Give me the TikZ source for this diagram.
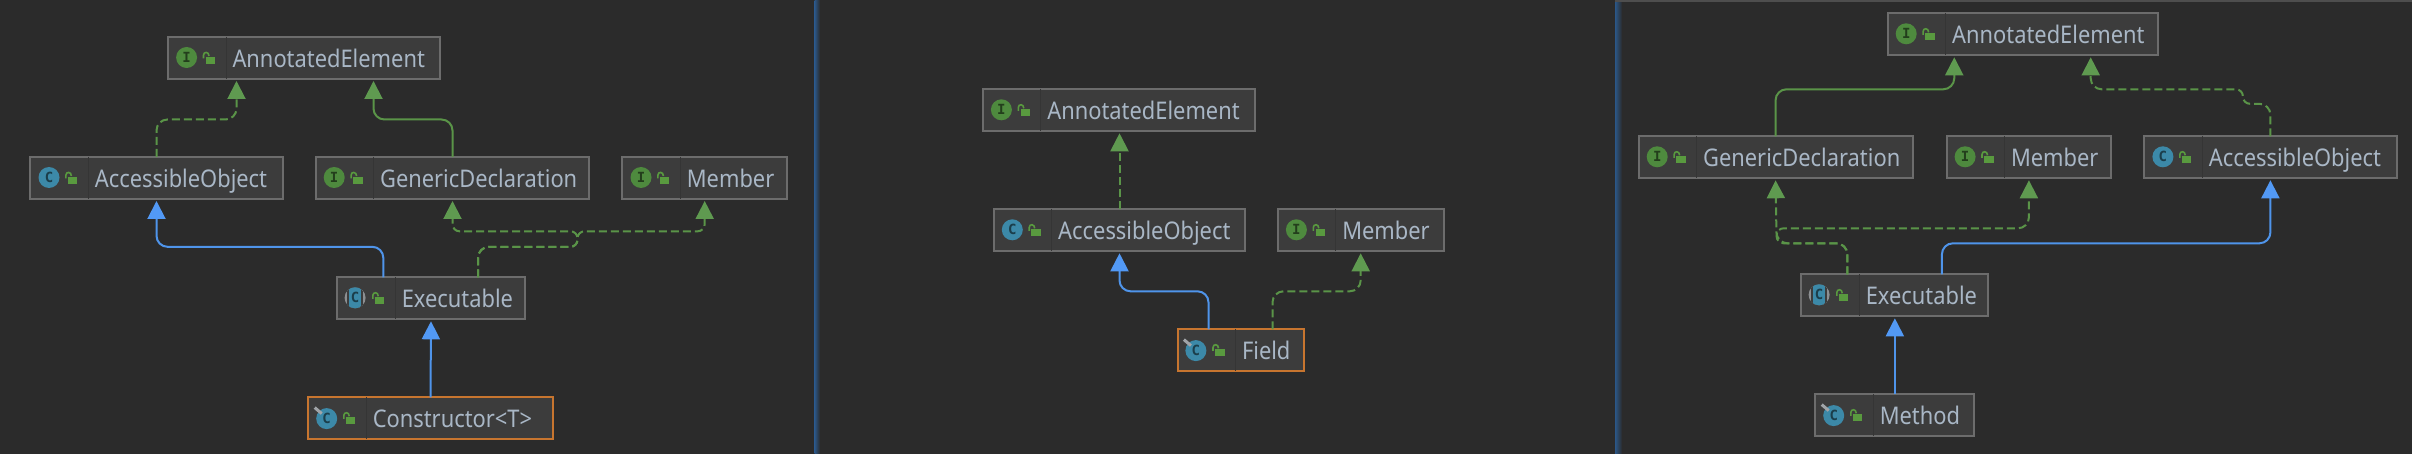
\documentclass[tikz,border=0pt]{standalone}
\usepackage{fontspec}
\setmainfont[FakeStretch=0.9]{Noto Sans}
\newfontfamily\iconfont{DejaVu Sans Mono}
\usetikzlibrary{arrows.meta,calc}
\definecolor{bgc}{HTML}{2B2B2B}
\definecolor{boxc}{HTML}{3C3C3C}
\definecolor{sepc}{HTML}{353535}
\definecolor{edgec}{HTML}{6C6C6C}
\definecolor{selc}{HTML}{C7752F}
\definecolor{txtc}{HTML}{A9B7C6}
\definecolor{greenl}{HTML}{5A9448}
\definecolor{greenh}{HTML}{5F9A50}
\definecolor{bluel}{HTML}{4F94EA}
\definecolor{blueh}{HTML}{5299F5}
\definecolor{igreen}{HTML}{4E8A3E}
\definecolor{iteal}{HTML}{3C89A8}
\definecolor{lockc}{HTML}{599A3F}
\definecolor{pinc}{HTML}{A0A4A8}
\definecolor{divc}{HTML}{2B5788}
\definecolor{topc}{HTML}{4E4E4E}
\tikzset{
  umlbox/.style={draw=edgec,fill=boxc,line width=2pt,rectangle,inner sep=0pt,outer sep=0pt},
  selbox/.style={umlbox,draw=selc},
  lab/.style={text=txtc,inner sep=0pt,outer sep=0pt,anchor=base west,font=\fontsize{24.3}{28}\selectfont},
  ilet/.style={inner sep=0pt,outer sep=0pt,font=\iconfont\bfseries\fontsize{14}{14}\selectfont},
  ghead/.style={-{Triangle[length=18pt,width=18pt,fill=greenh,color=greenh]}},
  bhead/.style={-{Triangle[length=18pt,width=18pt,fill=blueh,color=blueh]}},
  real/.style={ghead,color=greenl,line width=2pt},
  dep/.style={ghead,color=greenl,line width=2pt,dash pattern=on 8pt off 4pt},
  ext/.style={bhead,color=bluel,line width=2pt},
}
\newcommand{\lockat}[1]{%
  \fill[lockc] ($(#1.west)+(37.7,-1.3)$) rectangle ($(#1.west)+(47,6)$);
  \draw[lockc,line width=1.6pt] ($(#1.west)+(35.5,0.5)$) -- ($(#1.west)+(35.5,-2.8)$) .. controls ($(#1.west)+(35.5,-6.6)$) and ($(#1.west)+(41,-6.6)$) .. ($(#1.west)+(41,-2)$);
}
\newcommand{\iconI}[1]{%
  \node[circle,fill=igreen,minimum size=21pt,inner sep=0pt] (#1-c) at ([xshift=18.6pt,yshift=.5pt]#1.west) {};
  \node[ilet,text=black!55!igreen] at (#1-c) {I};
}
\newcommand{\iconC}[1]{%
  \node[circle,fill=iteal,minimum size=21pt,inner sep=0pt] (#1-c) at ([xshift=18.6pt,yshift=.5pt]#1.west) {};
  \node[ilet,text=black!55!iteal] at (#1-c) {C};
}
\newcommand{\iconA}[1]{%
  \coordinate (#1-c) at ([xshift=17.8pt,yshift=.5pt]#1.west);
  \begin{scope}
    \clip (#1-c) circle[radius=10.5pt];
    \fill[pinc!80!boxc] ($(#1-c)+(-11,-11)$) rectangle ($(#1-c)+(11,11)$);
    \fill[boxc] ($(#1-c)+(-8,-11)$) rectangle ($(#1-c)+(8,11)$);
    \fill[iteal] ($(#1-c)+(-6.2,-11)$) rectangle ($(#1-c)+(6.2,11)$);
  \end{scope}
  \node[ilet,text=black!55!iteal] at (#1-c) {C};
}
\newcommand{\iconF}[1]{%
  \node[circle,fill=iteal,minimum size=21pt,inner sep=0pt] (#1-c) at ([xshift=18.4pt,yshift=-.3pt]#1.west) {};
  \node[ilet,text=black!55!iteal] at (#1-c) {C};
  \draw[pinc,line width=3pt] ($(#1-c)+(-12,-11)$) -- ($(#1-c)+(-5,-5)$);
}
\newcommand{\umlnode}[8]{%
  \pgfmathsetmacro{\bw}{#4-#2-2}\pgfmathsetmacro{\bh}{#5-#3-2}%
  \pgfmathsetmacro{\cx}{(#2+#4)/2}\pgfmathsetmacro{\cy}{(#3+#5)/2}%
  \node[#6,minimum width=\bw pt,minimum height=\bh pt] (#1) at (\cx,\cy) {};
  \draw[sepc,line width=1pt] ([xshift=58pt]#1.north west) -- ([xshift=58pt]#1.south west);
  #7{#1}
  \lockat{#1}
  \node[lab] (#1-t) at ([xshift=64.5pt,yshift=-9.5pt]#1.west) {#8};
}
\begin{document}
\begin{tikzpicture}[x=1pt,y=-1pt]
\useasboundingbox (0,0) rectangle (2412,454);
\fill[bgc] (0,0) rectangle (2412,454);
% panel dividers
\fill[left color=divc,right color=bgc] (814.5,0) rectangle (820,454);
\fill[left color=divc,right color=bgc] (1615,0) rectangle (1622,454);
\fill[topc] (1615,0) rectangle (2412,2);
% panel 1
\umlnode{ae1}{167}{36}{440.6}{80}{umlbox}{\iconI}{AnnotatedElement}
\umlnode{ao1}{29.4}{156}{283.6}{200}{umlbox}{\iconC}{AccessibleObject}
\umlnode{gd1}{314.6}{156}{590.4}{200}{umlbox}{\iconI}{GenericDeclaration}
\umlnode{me1}{621.4}{156}{788}{200}{umlbox}{\iconI}{Member}
\umlnode{ex1}{336.3}{276.3}{525.7}{320.3}{umlbox}{\iconA}{Executable}
\umlnode{co1}{307.3}{396.3}{553.7}{440.3}{selbox}{\iconF}{Constructor<T>}
\draw[dep,rounded corners=11pt] (ao1.north) -- ++(0,-37.5) -| ([xshift=68.5pt,yshift=-2pt]ae1.south west);
\draw[real,rounded corners=11pt] (gd1.north) -- ++(0,-37.5) -| ([xshift=205.5pt,yshift=-2pt]ae1.south west);
\draw[ext,rounded corners=11pt] ([xshift=46pt]ex1.north west) -- ++(0,-30.5) -| ([yshift=-2pt]ao1.south);
\draw[ext] (co1.north) -- ([yshift=-2pt]ex1.south);
\draw[dep,rounded corners=11pt] ([xshift=140.7pt]ex1.north west) -- ++(0,-30.5) [rounded corners=7pt] -- ++(99.5,0) -- ++(0,-15.5) -| ([yshift=-2pt]gd1.south);
\draw[dep,rounded corners=11pt] ([xshift=140.7pt]ex1.north west) -- ++(0,-30.5) [rounded corners=7pt] -- ++(99.5,0) -- ++(0,-15.5) -| ([yshift=-2pt]me1.south);
% panel 2
\umlnode{ae2}{981.8}{88.3}{1255.6}{132.3}{umlbox}{\iconI}{AnnotatedElement}
\umlnode{ao2}{992.7}{208.3}{1246.3}{252.3}{umlbox}{\iconC}{AccessibleObject}
\umlnode{me2}{1276.8}{208.3}{1444.6}{252.3}{umlbox}{\iconI}{Member}
\umlnode{fi2}{1176.5}{328.3}{1304.6}{372.3}{selbox}{\iconF}{Field}
\draw[dep] (ao2.north) -- ([yshift=-2pt]ao2.north |- ae2.south);
\draw[ext,rounded corners=11pt] ([xshift=31pt]fi2.north west) -- ++(0,-38) -| ([yshift=-2pt]ao2.south);
\draw[dep,rounded corners=11pt] ([xshift=95pt]fi2.north west) -- ++(0,-38) -| ([yshift=-2pt]me2.south);
% panel 3
\umlnode{ae3}{1886.6}{12.3}{2159.3}{56.3}{umlbox}{\iconI}{AnnotatedElement}
\umlnode{gd3}{1637.6}{135.3}{1913.5}{179.3}{umlbox}{\iconI}{GenericDeclaration}
\umlnode{me3}{1945.5}{135.3}{2112.3}{179.3}{umlbox}{\iconI}{Member}
\umlnode{ao3}{2143.3}{135.3}{2397.5}{179.3}{umlbox}{\iconC}{AccessibleObject}
\umlnode{ex3}{1800.3}{273.3}{1989.4}{317.3}{umlbox}{\iconA}{Executable}
\umlnode{mt3}{1814.3}{393.3}{1975.4}{437.3}{umlbox}{\iconF}{Method}
\draw[real,rounded corners=11pt] (gd3.north) -- ++(0,-47) -| ([xshift=-68.7pt,yshift=-2pt]ae3.south);
\draw[dep,rounded corners=11pt] (ao3.north) -- ++(0,-32.5) [rounded corners=7pt] -- ++(-27.5,0) -- ++(0,-14.5) [rounded corners=11pt] -| ([xshift=-67.6pt,yshift=-2pt]ae3.south east);
\draw[ext] (mt3.north) -- ([yshift=-2pt]mt3.north |- ex3.south);
\draw[ext,rounded corners=11pt] ([xshift=140.6pt]ex3.north west) -- ++(0,-31) -| ([yshift=-2pt]ao3.south);
\draw[dep,rounded corners=11pt] ([xshift=46pt]ex3.north west) -- ++(0,-31) -- ++(-70.7,0) [sharp corners] -- ([yshift=-2pt]gd3.south);
\draw[dep,rounded corners=11pt] ([xshift=46pt]ex3.north west) -- ++(0,-31) [rounded corners=7pt] -- ++(-70.7,0) -- ++(0,-15) [rounded corners=11pt] -| ([yshift=-2pt]me3.south);
\end{tikzpicture}
\end{document}
